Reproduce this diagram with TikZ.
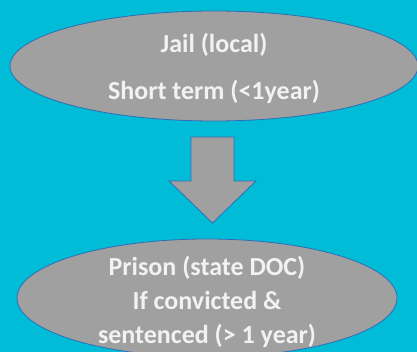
\documentclass[tikz,border=0pt]{standalone}
\usepackage{fontspec}
\setmainfont{Carlito}
\usetikzlibrary{shapes.geometric}
\definecolor{bgcyan}{HTML}{00BCD6}
\definecolor{shapegray}{HTML}{A0A0A0}
\definecolor{edgeblue}{HTML}{2F6DB5}
\definecolor{txt}{HTML}{F2F2F2}
\tikzset{
  oval/.style={ellipse, draw=edgeblue, line width=0.8pt, fill=shapegray, inner sep=0pt},
  label/.style={text=txt, font=\bfseries\fontsize{26}{31}\selectfont, align=center, inner sep=0pt},
  blockarrow/.style={draw=edgeblue, line width=0.8pt, fill=shapegray, line join=miter}
}
\begin{document}
\begin{tikzpicture}[x=1pt,y=-1pt]
\useasboundingbox (0,0) rectangle (417,352);
\fill[bgcyan] (0,0) rectangle (417,352);
\node[oval, minimum width=408pt, minimum height=110pt] (jail) at (214,66) {};
\node[label] (jailtext) at ([yshift=-2pt]jail.center) {Jail (local)\\[16pt]Short term (<1year)};
\coordinate (arrtop) at (212.5,137);
\draw[blockarrow] (arrtop) ++(-21.5,0) -- ++(0,44) -- ++(-22,0) -- (212.5,223)
  -- (256,181) -- (234,181) -- (234,137) -- cycle;
\node[oval, minimum width=380pt, minimum height=118pt] (prison) at (207,298) {};
\node[label, font=\bfseries\fontsize{26}{34}\selectfont] (prisontext) at ([yshift=-4pt]prison.center) {Prison (state DOC)\\If convicted \&\\sentenced (> 1 year)};
\end{tikzpicture}
\end{document}
